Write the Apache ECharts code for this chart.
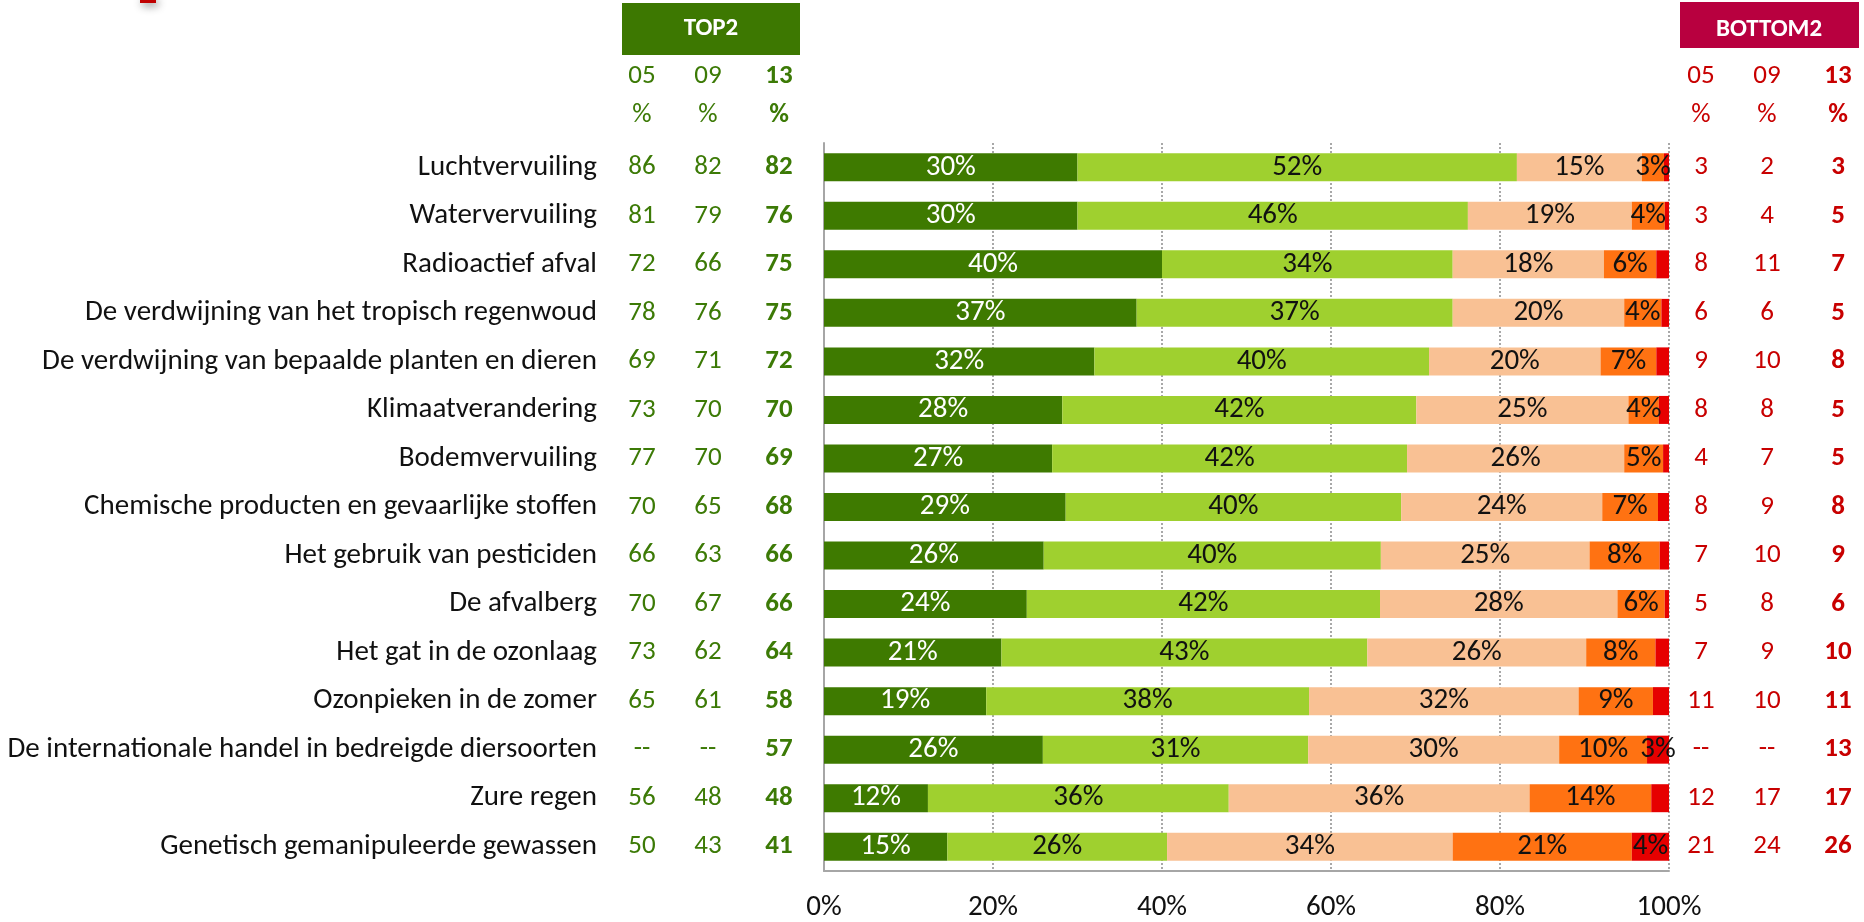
<!DOCTYPE html>
<html>
<head>
<meta charset="utf-8">
<script src="https://cdn.jsdelivr.net/npm/echarts@6/dist/echarts.min.js"></script>
<style>
  html, body { margin: 0; padding: 0; background: #fff; }
  #chart { width: 1864px; height: 922px; }
</style>
</head>
<body>
<div id="chart"></div>
<script>
// categories, top to bottom
const categories = [
    "Luchtvervuiling",
    "Watervervuiling",
    "Radioactief afval",
    "De verdwijning van het tropisch regenwoud",
    "De verdwijning van bepaalde planten en dieren",
    "Klimaatverandering",
    "Bodemvervuiling",
    "Chemische producten en gevaarlijke stoffen",
    "Het gebruik van pesticiden",
    "De afvalberg",
    "Het gat in de ozonlaag",
    "Ozonpieken in de zomer",
    "De internationale handel in bedreigde diersoorten",
    "Zure regen",
    "Genetisch gemanipuleerde gewassen"
];

// stacked segments (%)
const darkGreen = [30, 30, 40, 37, 32, 28.2, 27, 28.6, 26, 24, 21, 19.2, 25.9, 12.3, 14.6];
const lightGreen = [52, 46.2, 34.4, 37.4, 39.6, 41.9, 42, 39.7, 39.9, 41.8, 43.3, 38.2, 31.4, 35.6, 26.0];
const peach = [14.8, 19.4, 17.9, 20.3, 20.3, 25.1, 25.7, 23.8, 24.7, 28.1, 25.9, 31.9, 29.7, 35.6, 33.8];
const orange = [2.6, 3.9, 6.2, 4.4, 6.6, 3.6, 4.6, 6.6, 8.3, 5.6, 8.2, 8.8, 10.4, 14.4, 21.2];
const red = [0.6, 0.5, 1.5, 0.9, 1.5, 1.2, 0.7, 1.3, 1.1, 0.5, 1.6, 1.9, 2.6, 2.1, 4.4];

// side tables
const top05 = ["86", "81", "72", "78", "69", "73", "77", "70", "66", "70", "73", "65", "--", "56", "50"];
const top09 = ["82", "79", "66", "76", "71", "70", "70", "65", "63", "67", "62", "61", "--", "48", "43"];
const top13 = ["82", "76", "75", "75", "72", "70", "69", "68", "66", "66", "64", "58", "57", "48", "41"];
const bottom05 = ["3", "3", "8", "6", "9", "8", "4", "8", "7", "5", "7", "11", "--", "12", "21"];
const bottom09 = ["2", "4", "11", "6", "10", "8", "7", "9", "10", "8", "9", "10", "--", "17", "24"];
const bottom13 = ["3", "5", "7", "5", "8", "5", "5", "8", "9", "6", "10", "11", "13", "17", "26"];

const xTicks = [0, 20, 40, 60, 80, 100];
const yearLabels = ["05", "09", "13"];

const FONT = "Carlito, Lato, sans-serif";
const GREEN_TXT = "#3c7a06";
const RED_TXT = "#c80000";
const segColors = ["#3e7a00", "#9fd02f", "#f9c194", "#ff7212", "#e60000"];

const chart = echarts.init(document.getElementById("chart"), null, { renderer: "canvas" });

// extra category axes used as number columns
function columnAxis(position, values, margin, bold, color) {
    return {
        type: "category",
        position: position,
        inverse: true,
        data: categories,
        axisLine: { show: false },
        axisTick: { show: false },
        splitLine: { show: false },
        axisLabel: {
            interval: 0,
            align: "center",
            margin: margin,
            fontFamily: FONT,
            fontSize: 27,
            fontWeight: bold ? "bold" : "normal",
            color: color,
            formatter: (v, i) => values[i]
        }
    };
}

function barSeries(name, values, color, textColor) {
    return {
        name: name,
        type: "bar",
        stack: "total",
        yAxisIndex: 0,
        barWidth: 28,
        itemStyle: { color: color },
        label: {
            show: true,
            position: "inside",
            fontFamily: FONT,
            fontSize: 29,
            color: textColor,
            formatter: p => (p.value >= 2.5 ? Math.round(p.value) + "%" : "")
        },
        data: values
    };
}

// header texts above number columns
const headerText = [];
const topCols = [642, 708, 779];
const bottomCols = [1701, 1767, 1838];
yearLabels.forEach((yr, i) => {
    const bold = i === 2 ? "bold" : "normal";
    [[topCols[i], GREEN_TXT], [bottomCols[i], RED_TXT]].forEach(([x, c]) => {
        headerText.push({
            type: "text", x: x, y: 76, z: 10,
            style: { text: yr, fill: c, font: bold + " 27px " + FONT, textAlign: "center", textVerticalAlign: "middle" }
        });
        headerText.push({
            type: "text", x: x, y: 115, z: 10,
            style: { text: "%", fill: c, font: bold + " 27px " + FONT, textAlign: "center", textVerticalAlign: "middle" }
        });
    });
});

const option = {
    backgroundColor: "#ffffff",
    animation: false,
    grid: {
        left: 824,
        right: 195,
        top: 143,
        bottom: 51,
        containLabel: false,
        outerBoundsMode: "none"
    },
    xAxis: {
        type: "value",
        min: 0,
        max: 100,
        interval: 20,
        axisLine: { show: true, lineStyle: { color: "#a6a6a6", width: 2 } },
        axisTick: { show: false },
        axisLabel: {
            margin: 22,
            fontFamily: FONT,
            fontSize: 29,
            color: "#111",
            formatter: v => (xTicks.includes(v) ? v + "%" : "")
        },
        splitLine: {
            show: true,
            lineStyle: { color: "#8c8c8c", width: 1.5, type: [2, 2] }
        }
    },
    yAxis: [
        {
            type: "category",
            position: "left",
            inverse: true,
            data: categories,
            axisLine: { show: true, onZero: false, lineStyle: { color: "#a6a6a6", width: 2 } },
            axisTick: { show: false },
            splitLine: { show: false },
            axisLabel: {
                interval: 0,
                margin: 227,
                fontFamily: FONT,
                fontSize: 29,
                color: "#111"
            }
        },
        columnAxis("left", top05, 182, false, GREEN_TXT),
        columnAxis("left", top09, 116, false, GREEN_TXT),
        columnAxis("left", top13, 45, true, GREEN_TXT),
        columnAxis("right", bottom05, 32, false, RED_TXT),
        columnAxis("right", bottom09, 98, false, RED_TXT),
        columnAxis("right", bottom13, 169, true, RED_TXT)
    ],
    series: [
        barSeries("dark", darkGreen, segColors[0], "#ffffff"),
        barSeries("light", lightGreen, segColors[1], "#111"),
        barSeries("peach", peach, segColors[2], "#111"),
        barSeries("orange", orange, segColors[3], "#111"),
        barSeries("red", red, segColors[4], "#111")
    ],
    graphic: [
        {
            type: "rect", left: 140, top: -3, z: 5,
            shape: { width: 16, height: 6 },
            style: { fill: "#c00000", shadowBlur: 8, shadowColor: "rgba(0,0,0,0.45)", shadowOffsetX: 2, shadowOffsetY: 3 }
        },
        {
            type: "group", left: 622, top: 3,
            children: [
                { type: "rect", shape: { width: 178, height: 52 }, style: { fill: "#3d7801" } },
                {
                    type: "text", x: 89, y: 26,
                    style: { text: "TOP2", fill: "#fff", font: "bold 25px " + FONT, textAlign: "center", textVerticalAlign: "middle" }
                }
            ]
        },
        {
            type: "group", left: 1680, top: 2,
            children: [
                { type: "rect", shape: { width: 179, height: 46 }, style: { fill: "#b8003f" } },
                {
                    type: "text", x: 89, y: 28,
                    style: { text: "BOTTOM2", fill: "#fff", font: "bold 25px " + FONT, textAlign: "center", textVerticalAlign: "middle" }
                }
            ]
        }
    ].concat(headerText)
};

chart.setOption(option);
</script>
</body>
</html>
